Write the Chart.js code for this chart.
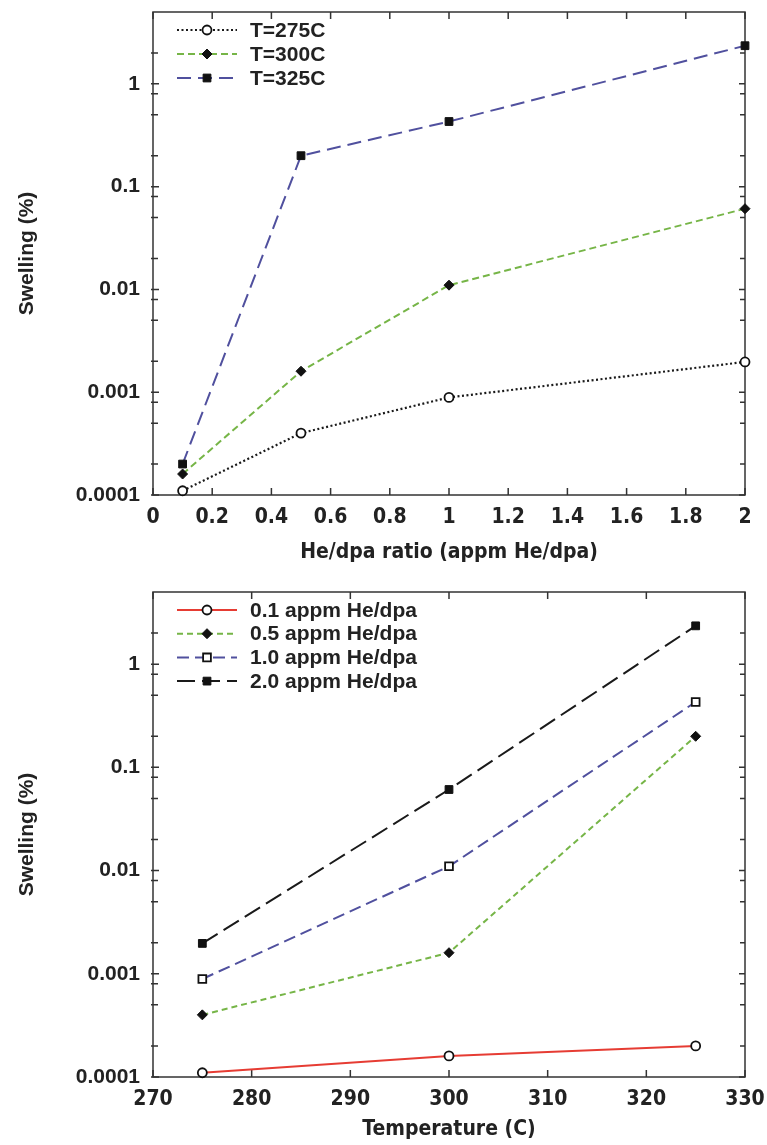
<!DOCTYPE html>
<html>
<head>
<meta charset="utf-8">
<script src="https://cdn.jsdelivr.net/npm/chart.js@4.4.1/dist/chart.umd.min.js"></script>
<style>
  html, body { margin: 0; padding: 0; background: #fff; }
  #wrap { position: relative; width: 767px; height: 1145px; }
  .box { position: absolute; left: 0; width: 767px; }
  #box1 { top: 0; height: 580px; }
  #box2 { top: 580px; height: 565px; }
</style>
</head>
<body>
<div id="wrap">
  <div class="box" id="box1"><canvas id="ratioChart"></canvas></div>
  <div class="box" id="box2"><canvas id="tempChart"></canvas></div>
</div>
<script>
// ---- data ----
// top panel: swelling vs He/dpa ratio
const heRatios = [0.1, 0.5, 1, 2];
const swellT275 = [0.00011, 0.00040, 0.00089, 0.00197];
const swellT300 = [0.00016, 0.0016, 0.011, 0.061];
const swellT325 = [0.00020, 0.20, 0.43, 2.35];

// bottom panel: swelling vs temperature
const temperatures = [275, 300, 325];
const swellHe01 = [0.00011, 0.00016, 0.00020];
const swellHe05 = [0.00040, 0.0016, 0.20];
const swellHe10 = [0.00089, 0.011, 0.43];
const swellHe20 = [0.00197, 0.061, 2.35];

// axis ticks
const yTicks = [0.0001, 0.001, 0.01, 0.1, 1];
const yTickLabels = ['0.0001', '0.001', '0.01', '0.1', '1'];
const yMinorTicks = [0.0002, 0.0005, 0.0008, 0.002, 0.005, 0.008, 0.02, 0.05, 0.08, 0.2, 0.5, 0.8, 2];
const ratioTicks = [0, 0.2, 0.4, 0.6, 0.8, 1, 1.2, 1.4, 1.6, 1.8, 2];
const ratioTickLabels = ['0', '0.2', '0.4', '0.6', '0.8', '1', '1.2', '1.4', '1.6', '1.8', '2'];
const tempTicks = [270, 280, 290, 300, 310, 320, 330];
const tempTickLabels = ['270', '280', '290', '300', '310', '320', '330'];

const BOLD = "'Liberation Sans', Arial, sans-serif";
const NARROW = "'Liberation Sans Narrow', 'Arial Narrow', 'DejaVu Sans Condensed', 'Liberation Sans', sans-serif";
const INK = '#222';

Chart.defaults.font.family = BOLD;
Chart.defaults.color = INK;

function drawMarker(ctx, ds, x, y) {
  ctx.fillStyle = ds.pointBackgroundColor;
  ctx.strokeStyle = ds.pointBorderColor;
  ctx.lineWidth = ds.pointBorderWidth;
  Chart.helpers.drawPoint(ctx, {
    pointStyle: ds.pointStyle,
    radius: ds.pointRadius,
    borderWidth: ds.pointBorderWidth,
    rotation: 0
  }, x, y);
}

// frame plus inward tick marks on all four sides
const frameTicks = {
  id: 'frameTicks',
  beforeDatasetsDraw(chart, args, o) {
    const {ctx, chartArea: a, scales: {x, y}} = chart;
    ctx.save();
    ctx.strokeStyle = o.color;
    ctx.lineWidth = o.width;
    ctx.beginPath();
    o.xMajor.forEach(v => {
      const px = x.getPixelForValue(v);
      ctx.moveTo(px, a.bottom); ctx.lineTo(px, a.bottom - o.xLen);
      ctx.moveTo(px, a.top); ctx.lineTo(px, a.top + o.xLen);
    });
    const yMark = (v, len) => {
      const py = y.getPixelForValue(v);
      ctx.moveTo(a.left - 2, py); ctx.lineTo(a.left + len, py);
      ctx.moveTo(a.right, py); ctx.lineTo(a.right - len, py);
    };
    o.yMajor.forEach(v => yMark(v, o.yLen));
    o.yMinor.forEach(v => yMark(v, o.yMinorLen));
    ctx.stroke();
    ctx.strokeRect(a.left, a.top, a.width, a.height);
    ctx.restore();
  }
};

// legend drawn inside the plot: line sample with marker, then label
const lineLegend = {
  id: 'lineLegend',
  afterDatasetsDraw(chart, args, o) {
    const {ctx, chartArea: a} = chart;
    ctx.save();
    chart.data.datasets.forEach((ds, i) => {
      const yy = a.top + o.top + i * o.rowGap;
      const x0 = a.left + o.lineStart;
      const x1 = a.left + o.lineEnd;
      ctx.strokeStyle = ds.borderColor;
      ctx.lineWidth = ds.borderWidth;
      ctx.setLineDash(ds.borderDash || []);
      ctx.beginPath();
      ctx.moveTo(x0, yy);
      ctx.lineTo(x1, yy);
      ctx.stroke();
      ctx.setLineDash([]);
      drawMarker(ctx, ds, (x0 + x1) / 2, yy);
      ctx.fillStyle = INK;
      ctx.font = o.font;
      ctx.textBaseline = 'middle';
      ctx.textAlign = 'left';
      ctx.fillText(ds.label, a.left + o.textX, yy + 1);
    });
    ctx.restore();
  }
};

function series(label, xs, ys, style) {
  return Object.assign({
    label,
    data: xs.map((x, i) => ({x, y: ys[i]})),
    borderWidth: 2,
    pointBorderColor: '#111',
    pointBorderWidth: 1.8,
    pointHoverRadius: 5,
    clip: false,
    fill: false,
    tension: 0
  }, style);
}

const openCircle = {pointStyle: 'circle', pointRadius: 4.5, pointBackgroundColor: '#fff'};
const diamond = {pointStyle: 'rectRot', pointRadius: 5, pointBackgroundColor: '#111', pointBorderWidth: 1};
const filledSquare = {pointStyle: 'rect', pointRadius: 5.5, pointBackgroundColor: '#111', pointBorderWidth: 1};
const openSquare = {pointStyle: 'rect', pointRadius: 5.5, pointBackgroundColor: '#fff'};

const noPad = s => { s.paddingTop = 0; s.paddingBottom = 0; s.paddingLeft = 0; s.paddingRight = 0; };

function makeChart(id, datasets, xCfg, xHeight, xTitlePad, legendGap) {
  return new Chart(document.getElementById(id), {
    type: 'line',
    data: {datasets},
    options: {
      responsive: true,
      maintainAspectRatio: false,
      animation: false,
      layout: {padding: {top: 12, right: 22, left: 0, bottom: 0}},
      scales: {
        x: {
          type: 'linear',
          min: xCfg.min,
          max: xCfg.max,
          afterBuildTicks: s => { s.ticks = xCfg.ticks.map(v => ({value: v})); },
          afterFit: s => { s.height = xHeight; noPad(s); },
          grid: {display: false, drawTicks: false},
          border: {display: false},
          ticks: {
            padding: 10,
            maxRotation: 0,
            autoSkip: false,
            color: INK,
            font: {family: NARROW, size: 21, weight: 'bold'},
            callback: (v, i) => xCfg.labels[i]
          },
          title: {
            display: true,
            text: xCfg.title,
            color: INK,
            padding: {top: 0, bottom: xTitlePad},
            font: {family: NARROW, size: 21, weight: 'bold'}
          }
        },
        y: {
          type: 'logarithmic',
          min: 0.0001,
          max: 5,
          afterBuildTicks: s => { s.ticks = yTicks.map(v => ({value: v})); },
          afterFit: s => { s.width = 153; noPad(s); },
          grid: {display: false, drawTicks: false},
          border: {display: false},
          ticks: {
            padding: 13,
            autoSkip: false,
            color: INK,
            font: {size: 21, weight: 'bold'},
            callback: (v, i) => yTickLabels[i]
          },
          title: {
            display: true,
            text: 'Swelling (%)',
            color: INK,
            padding: {top: 15, bottom: 0},
            font: {size: 21, weight: 'bold'}
          }
        }
      },
      plugins: {
        legend: {display: false},
        tooltip: {enabled: false},
        frameTicks: {
          color: '#333', width: 1.5,
          xMajor: xCfg.ticks, xLen: 7,
          yMajor: yTicks, yLen: 6,
          yMinor: yMinorTicks, yMinorLen: 5
        },
        lineLegend: {
          top: 18, rowGap: legendGap,
          lineStart: 24, lineEnd: 84, textX: 97,
          font: "bold 21px 'Liberation Sans', Arial, sans-serif"
        }
      }
    },
    plugins: [frameTicks, lineLegend]
  });
}

// top panel
makeChart('ratioChart', [
  series('T=275C', heRatios, swellT275, Object.assign({borderColor: '#1a1a1a', borderDash: [2, 2.5], borderWidth: 2.2}, openCircle)),
  series('T=300C', heRatios, swellT300, Object.assign({borderColor: '#76b547', borderDash: [7, 4]}, diamond)),
  series('T=325C', heRatios, swellT325, Object.assign({borderColor: '#50509e', borderDash: [14, 7]}, filledSquare))
], {min: 0, max: 2, ticks: ratioTicks, labels: ratioTickLabels, title: 'He/dpa ratio (appm He/dpa)'}, 85, 15, 24);

// bottom panel
makeChart('tempChart', [
  series('0.1 appm He/dpa', temperatures, swellHe01, Object.assign({borderColor: '#e63c33'}, openCircle)),
  series('0.5 appm He/dpa', temperatures, swellHe05, Object.assign({borderColor: '#76b547', borderDash: [6, 4]}, diamond)),
  series('1.0 appm He/dpa', temperatures, swellHe10, Object.assign({borderColor: '#50509e', borderDash: [12, 6]}, openSquare)),
  series('2.0 appm He/dpa', temperatures, swellHe20, Object.assign({borderColor: '#1a1a1a', borderDash: [18, 7]}, filledSquare))
], {min: 270, max: 330, ticks: tempTicks, labels: tempTickLabels, title: 'Temperature (C)'}, 68, 3, 23.7);
</script>
</body>
</html>
